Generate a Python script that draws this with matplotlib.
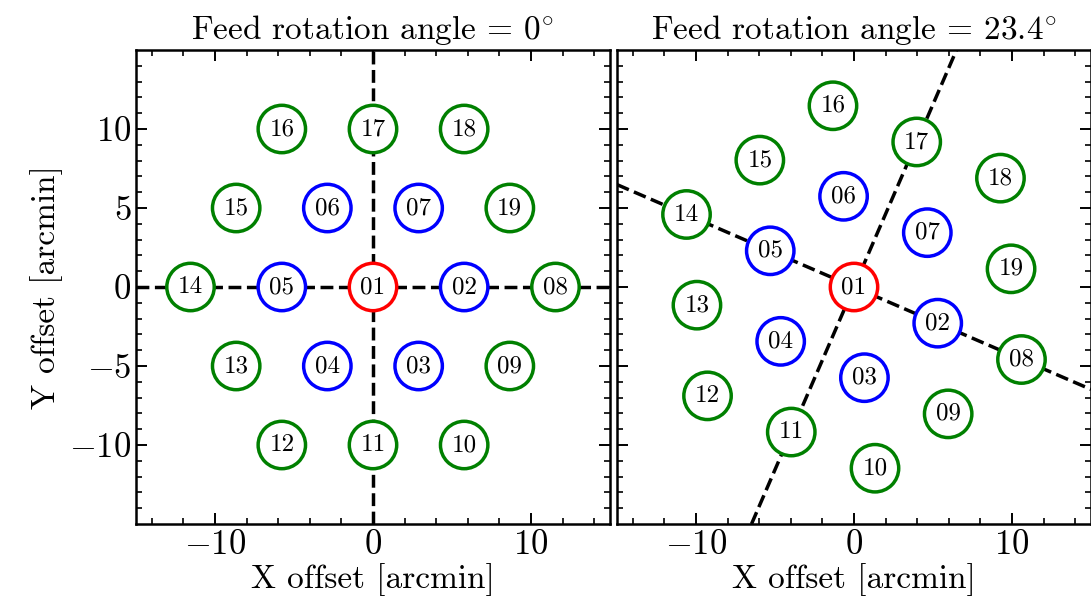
import numpy as np
import matplotlib.pyplot as plt
from matplotlib.patches import Circle

# LaTeX-like look without usetex
plt.rcParams['font.family'] = 'serif'
plt.rcParams['font.serif'] = ['cmr10']
plt.rcParams['mathtext.fontset'] = 'cm'
plt.rcParams['axes.formatter.use_mathtext'] = True

# feed labels and positions [arcmin]
feeds = ['01', '02', '03', '04', '05', '06', '07', '08', '09', '10',
         '11', '12', '13', '14', '15', '16', '17', '18', '19']
ring = [0, 1, 1, 1, 1, 1, 1, 2, 2, 2, 2, 2, 2, 2, 2, 2, 2, 2, 2]

x_0 = [0.0, 5.77, 2.89, -2.89, -5.77, -2.89, 2.89, 11.55, 8.66, 5.77,
       0.0, -5.77, -8.66, -11.55, -8.66, -5.77, 0.0, 5.77, 8.66]
y_0 = [0.0, 0.0, -5.0, -5.0, 0.0, 5.0, 5.0, 0.0, -5.0, -10.0,
       -10.0, -10.0, -5.0, 0.0, 5.0, 10.0, 10.0, 10.0, 5.0]

x_rot = [0.0, 5.30, 0.66, -4.64, -5.30, -0.66, 4.64, 10.60, 5.96, 1.33,
         -3.97, -9.27, -9.94, -10.60, -5.96, -1.33, 3.97, 9.27, 9.94]
y_rot = [0.0, -2.29, -5.74, -3.44, 2.29, 5.74, 3.44, -4.59, -8.03, -11.47,
         -9.18, -6.89, -1.15, 4.59, 8.03, 11.47, 9.18, 6.89, 1.15]

ring_colors = ['red', 'blue', 'green']
titles = [r'Feed rotation angle = 0$^{\circ}$',
          r'Feed rotation angle = 23.4$^{\circ}$']

fig = plt.figure(figsize=(10.91, 6.07), dpi=100)
W, H = 1091.0, 607.0
ax1 = fig.add_axes([136 / W, 83 / H, 474 / W, 474 / H])
ax2 = fig.add_axes([617 / W, 83 / H, 474 / W, 474 / H])

for ax, xs, ys, title in [(ax1, x_0, y_0, titles[0]), (ax2, x_rot, y_rot, titles[1])]:
    # axes of the feed pattern through feed 01, 02 and 17
    ax.axline((xs[0], ys[0]), (xs[1], ys[1]), color='k', ls='--', lw=2.5, zorder=1)
    ax.axline((xs[0], ys[0]), (xs[16], ys[16]), color='k', ls='--', lw=2.5, zorder=1)

    for name, r, x, y in zip(feeds, ring, xs, ys):
        ax.add_patch(Circle((x, y), 1.5, facecolor='white', edgecolor=ring_colors[r],
                            lw=2.5, zorder=2))
        ax.text(x, y, name, ha='center', va='center', fontsize=18, zorder=3)

    ax.set_xlim(-15, 15)
    ax.set_ylim(-15, 15)
    ax.set_aspect('equal')
    ax.set_xticks([-10, 0, 10])
    ax.set_yticks([-10, -5, 0, 5, 10])
    ax.set_xticks(np.arange(-14, 15, 2), minor=True)
    ax.set_yticks(np.arange(-14, 15, 1), minor=True)
    ax.tick_params(which='both', direction='in', top=True, right=True, labelsize=25)
    ax.tick_params(which='major', length=8, width=1.4)
    ax.tick_params(which='minor', length=4, width=1.2)
    for s in ax.spines.values():
        s.set_linewidth(1.8)
    ax.set_title(title, fontsize=24, pad=8)
    ax.set_xlabel('X offset [arcmin]', fontsize=24, labelpad=2)

ax1.set_ylabel('Y offset [arcmin]', fontsize=24)
ax2.tick_params(labelleft=False)

plt.savefig('out.png', dpi=100)
